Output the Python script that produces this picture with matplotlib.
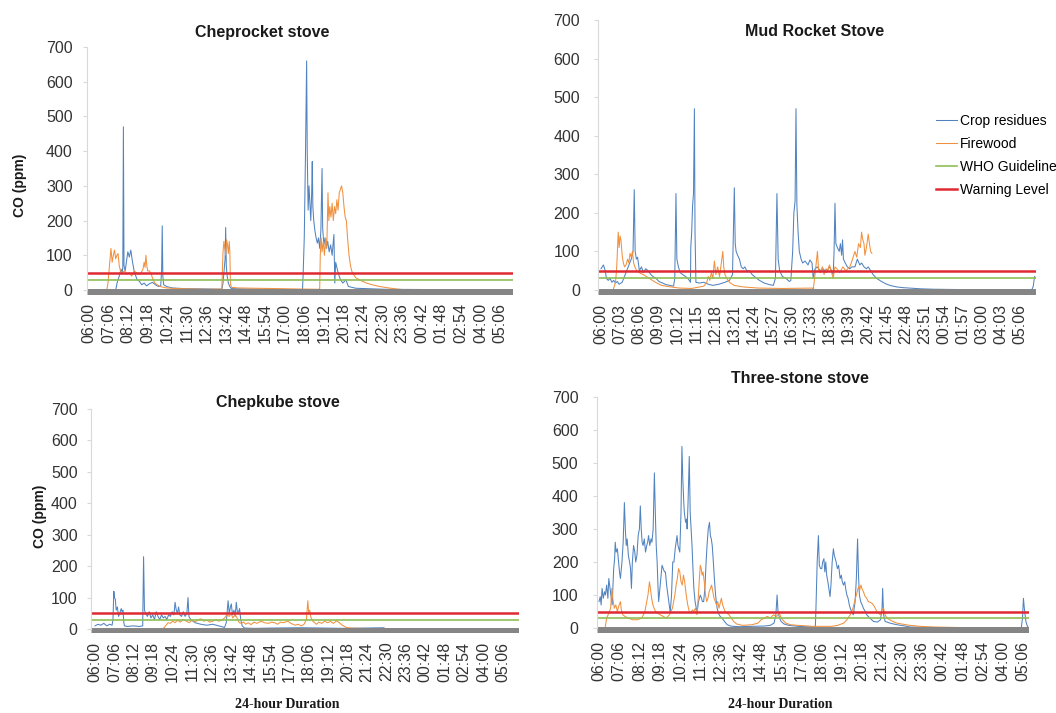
import matplotlib
matplotlib.use('Agg')
from matplotlib import pyplot as plt

plt.rcParams['font.family'] = ['Liberation Sans', 'DejaVu Sans']

# 时间 = 从 06:00 开始的分钟数
# ---------------- Cheprocket stove ----------------
tl_crop_t = [0, 90, 96, 102, 108, 112, 114, 116, 118, 122, 126, 131, 136, 141, 146, 151, 156, 162, 170, 178,
             186, 194, 204, 214, 224, 234, 242, 245, 247, 249, 252, 262, 280, 320, 400, 448, 452, 456, 459, 461,
             463, 466, 470, 475, 480, 520, 600, 700, 720, 722, 726, 730, 734, 736, 739, 742, 745, 748, 751, 753,
             755, 758, 762, 766, 770, 774, 778, 782, 786, 788, 792, 796, 800, 805, 810, 815, 820, 826, 829, 832,
             840, 848, 856, 862, 866, 875, 900, 1000, 1430]
tl_crop_v = [0, 0, 25, 40, 60, 50, 65, 470, 70, 55, 80, 110, 95, 115, 85, 60, 45, 30, 25, 15,
             20, 12, 18, 22, 15, 10, 12, 60, 185, 40, 15, 10, 6, 4, 3, 2, 20, 60, 90, 180,
             70, 40, 20, 10, 4, 3, 2, 1, 1, 40, 150, 380, 660, 400, 230, 300, 250, 200, 280, 370,
             240, 200, 170, 150, 135, 150, 120, 170, 350, 180, 130, 150, 120, 140, 110, 130, 100, 160, 20, 80,
             50, 30, 20, 25, 30, 10, 5, 2, 0]
tl_fire_t = [0, 60, 64, 68, 72, 74, 78, 82, 86, 90, 94, 98, 102, 106, 112, 120, 128, 136, 144, 152,
             160, 168, 176, 182, 186, 189, 192, 195, 198, 204, 210, 216, 222, 230, 240, 260, 300, 400, 448, 450,
             452, 455, 458, 461, 464, 467, 470, 473, 475, 477, 480, 500, 560, 640, 700, 776, 778, 780, 783, 786,
             790, 794, 798, 802, 806, 809, 812, 816, 820, 824, 828, 832, 836, 840, 844, 848, 852, 856, 860, 864,
             868, 872, 877, 882, 886, 892, 900, 915, 936, 960, 981, 1010, 1037, 1071, 1430]
tl_fire_v = [0, 0, 20, 60, 100, 120, 80, 100, 115, 90, 100, 105, 70, 55, 50, 55, 45, 50, 40, 55,
             50, 45, 50, 60, 80, 65, 100, 70, 55, 55, 45, 30, 20, 15, 10, 6, 4, 2, 3, 60,
             110, 140, 120, 100, 145, 130, 105, 140, 110, 20, 8, 6, 5, 4, 3, 2, 0, 100, 150, 110,
             140, 100, 150, 120, 280, 200, 240, 210, 250, 200, 240, 220, 260, 230, 280, 290, 300, 280, 240, 210,
             200, 150, 100, 70, 55, 45, 35, 28, 20, 14, 10, 6, 3, 0, 0]
tl_labels = ['06:00', '07:06', '08:12', '09:18', '10:24', '11:30', '12:36', '13:42', '14:48', '15:54', '17:00',
             '18:06', '19:12', '20:18', '21:24', '22:30', '23:36', '00:42', '01:48', '02:54', '04:00', '05:06']

# ---------------- Mud Rocket Stove ----------------
tr_crop_t = [0, 8, 14, 18, 24, 30, 36, 42, 48, 54, 60, 70, 80, 90, 100, 106, 110, 113, 117, 121,
             127, 134, 140, 148, 156, 165, 172, 182, 192, 204, 215, 228, 240, 244, 248, 251, 256, 262, 270, 280,
             287, 292, 296, 297, 300, 303, 306, 309, 311, 314, 325, 340, 355, 370, 390, 410, 425, 435, 441, 444,
             447, 452, 458, 464, 470, 476, 482, 491, 500, 512, 524, 540, 557, 570, 577, 582, 586, 591, 600, 612,
             623, 628, 634, 638, 642, 645, 648, 652, 656, 662, 667, 675, 685, 691, 698, 702, 708, 715, 725, 735,
             745, 755, 763, 768, 771, 774, 777, 782, 788, 792, 796, 799, 802, 808, 815, 823, 830, 840, 848, 856,
             862, 870, 878, 884, 892, 900, 912, 928, 945, 960, 978, 1000, 1022, 1060, 1099, 1200, 1425, 1430, 1434, 1439]
tr_crop_v = [55, 65, 50, 30, 25, 30, 20, 25, 18, 22, 15, 20, 40, 60, 80, 100, 260, 100, 80, 85,
             50, 60, 45, 55, 50, 40, 35, 30, 22, 18, 14, 12, 10, 30, 250, 80, 60, 45, 40, 35,
             30, 25, 20, 110, 150, 220, 250, 470, 150, 20, 18, 20, 15, 12, 15, 20, 25, 40, 265, 120,
             100, 90, 80, 60, 55, 60, 50, 50, 40, 32, 25, 18, 14, 12, 30, 250, 80, 50, 35, 30,
             22, 25, 100, 200, 230, 470, 220, 150, 100, 80, 70, 75, 65, 78, 70, 30, 55, 60, 50, 55,
             45, 60, 50, 40, 100, 225, 120, 110, 100, 120, 90, 130, 80, 70, 60, 55, 60, 60, 80, 65,
             70, 60, 55, 60, 50, 40, 30, 22, 15, 11, 8, 6, 5, 3, 2, 1, 0, 10, 35, 30]
tr_fire_t = [40, 48, 52, 57, 60, 63, 66, 70, 74, 78, 83, 88, 92, 96, 100, 104, 108, 112, 118, 126,
             140, 160, 180, 200, 230, 260, 300, 340, 350, 355, 360, 365, 370, 375, 380, 386, 392, 398, 403, 406,
             410, 416, 425, 440, 470, 520, 600, 700, 702, 708, 716, 720, 726, 732, 738, 744, 750, 756, 763, 768,
             774, 780, 790, 800, 810, 823, 830, 836, 840, 846, 852, 858, 862, 866, 870, 873, 878, 884, 888, 892,
             896]
tr_fire_v = [0, 20, 60, 150, 110, 140, 130, 90, 70, 60, 65, 80, 70, 95, 85, 100, 70, 60, 50, 45,
             40, 30, 20, 12, 8, 5, 4, 10, 20, 35, 25, 45, 30, 75, 40, 60, 35, 70, 100, 60,
             40, 30, 20, 12, 8, 5, 4, 5, 0, 40, 100, 50, 45, 60, 40, 55, 50, 65, 45, 30,
             60, 55, 45, 60, 50, 60, 75, 90, 100, 85, 120, 110, 150, 130, 120, 90, 110, 145, 120, 100,
             95]
tr_labels = ['06:00', '07:03', '08:06', '09:09', '10:12', '11:15', '12:18', '13:21', '14:24', '15:27', '16:30',
             '17:33', '18:36', '19:39', '20:42', '21:45', '22:48', '23:51', '00:54', '01:57', '03:00', '04:03',
             '05:06']

# ---------------- Chepkube stove ----------------
bl_crop_t = [0, 10, 20, 30, 40, 50, 58, 61, 64, 66, 69, 72, 76, 80, 84, 89, 92, 95, 98, 100,
             110, 130, 150, 162, 165, 168, 172, 178, 184, 190, 196, 202, 208, 214, 220, 226, 232, 238, 244, 250,
             256, 262, 268, 272, 276, 280, 284, 288, 294, 300, 306, 312, 316, 319, 325, 340, 360, 380, 400, 420,
             440, 446, 452, 456, 460, 463, 467, 472, 476, 480, 484, 488, 491, 495, 500, 508, 540, 600, 700, 780,
             850, 980, 990, 1440]
bl_crop_v = [10, 15, 12, 18, 10, 15, 12, 30, 120, 100, 95, 60, 70, 40, 50, 65, 55, 60, 20, 10,
             8, 10, 8, 10, 230, 60, 50, 40, 55, 35, 45, 30, 55, 40, 30, 45, 35, 40, 30, 45,
             40, 55, 45, 85, 60, 50, 70, 45, 40, 55, 40, 50, 100, 40, 30, 20, 15, 12, 15, 10,
             5, 20, 90, 50, 70, 80, 45, 60, 40, 85, 50, 55, 65, 30, 10, 3, 2, 3, 4, 3,
             2, 4, 0, 0]
bl_fire_t = [230, 240, 248, 256, 264, 272, 280, 290, 300, 310, 320, 330, 340, 350, 361, 370, 380, 390, 400, 410,
             420, 430, 440, 448, 456, 462, 468, 475, 480, 485, 490, 497, 505, 512, 520, 530, 540, 550, 565, 575,
             590, 600, 610, 620, 630, 640, 655, 665, 680, 690, 701, 710, 718, 723, 726, 729, 734, 740, 746, 752,
             760, 770, 780, 790, 800, 810, 820, 830, 840, 848, 853, 870, 900, 1000]
bl_fire_v = [0, 10, 20, 18, 25, 20, 28, 22, 30, 25, 20, 28, 22, 30, 32, 25, 28, 22, 25, 30,
             25, 28, 35, 45, 40, 50, 35, 45, 40, 30, 20, 18, 22, 15, 20, 14, 22, 18, 25, 20,
             18, 22, 20, 15, 22, 20, 25, 18, 12, 15, 10, 15, 30, 90, 50, 60, 35, 25, 20, 15,
             22, 18, 25, 20, 24, 18, 26, 20, 12, 8, 5, 3, 2, 0]
bl_labels = tl_labels

# ---------------- Three-stone stove ----------------
br_crop_t = [0, 4, 7, 10, 14, 18, 21, 25, 29, 32, 36, 40, 43, 46, 48, 51, 53, 56, 60, 64,
             67, 70, 73, 75, 79, 83, 86, 89, 92, 96, 100, 103, 106, 109, 113, 117, 120, 124, 128, 132,
             135, 138, 141, 144, 148, 152, 156, 159, 162, 166, 170, 173, 177, 181, 184, 187, 190, 193, 195, 199,
             203, 206, 210, 214, 217, 221, 225, 228, 231, 233, 237, 241, 245, 249, 252, 255, 258, 261, 264, 268,
             271, 274, 277, 279, 283, 286, 288, 291, 295, 298, 301, 304, 307, 310, 314, 318, 321, 325, 328, 331,
             335, 338, 342, 346, 350, 353, 357, 361, 364, 367, 370, 373, 377, 381, 386, 390, 396, 402, 410, 419,
             430, 440, 460, 500, 540, 560, 572, 578, 582, 585, 590, 595, 605, 620, 650, 700, 707, 709, 713, 717,
             720, 724, 728, 731, 735, 738, 741, 744, 748, 751, 755, 758, 762, 766, 769, 772, 775, 779, 783, 788,
             792, 795, 799, 803, 806, 810, 814, 818, 821, 825, 829, 831, 834, 837, 841, 845, 848, 851, 855, 860,
             864, 870, 875, 885, 897, 910, 920, 925, 927, 930, 935, 950, 973, 1000, 1017, 1060, 1150, 1380, 1384, 1387,
             1390, 1395, 1400, 1405]
br_crop_v = [80, 95, 70, 120, 90, 110, 100, 130, 90, 150, 120, 90, 70, 140, 180, 210, 260, 230, 240, 200,
             170, 150, 180, 200, 260, 380, 300, 250, 270, 220, 200, 180, 120, 200, 250, 230, 200, 220, 280, 300,
             370, 300, 260, 250, 270, 230, 250, 260, 280, 250, 270, 260, 300, 470, 350, 250, 200, 120, 80, 120,
             160, 190, 180, 170, 170, 130, 100, 80, 60, 50, 100, 200, 200, 240, 260, 280, 250, 240, 230, 350,
             550, 450, 380, 350, 320, 330, 300, 380, 520, 350, 300, 250, 180, 120, 80, 60, 50, 80, 90, 100,
             90, 80, 80, 120, 200, 250, 300, 320, 280, 270, 250, 210, 150, 100, 60, 45, 35, 30, 20, 10,
             6, 5, 4, 5, 6, 8, 15, 40, 100, 50, 30, 20, 12, 8, 5, 3, 2, 60, 200, 280,
             190, 180, 180, 200, 210, 170, 200, 160, 140, 120, 95, 130, 200, 240, 220, 210, 200, 180, 190, 150,
             160, 140, 130, 140, 120, 100, 90, 70, 60, 50, 45, 40, 60, 80, 150, 270, 160, 100, 80, 70,
             60, 50, 40, 30, 20, 18, 25, 60, 120, 40, 20, 15, 10, 6, 3, 2, 1, 1, 30, 90,
             60, 20, 5, 0]
br_fire_t = [0, 20, 25, 32, 38, 42, 45, 50, 55, 60, 64, 70, 73, 78, 85, 95, 110, 125, 140, 150,
             156, 160, 165, 168, 172, 176, 180, 185, 190, 200, 210, 220, 230, 240, 248, 252, 256, 260, 264, 268,
             272, 276, 280, 285, 290, 295, 300, 305, 310, 315, 320, 325, 328, 331, 334, 337, 340, 344, 348, 352,
             356, 360, 364, 368, 372, 376, 380, 384, 388, 392, 396, 400, 404, 408, 412, 418, 425, 432, 440, 450,
             470, 500, 520, 530, 540, 550, 560, 570, 580, 590, 595, 600, 610, 625, 650, 700, 760, 780, 800, 810,
             821, 830, 838, 844, 848, 852, 856, 859, 864, 870, 875, 880, 886, 892, 900, 908, 914, 919, 925, 930,
             935, 941, 950, 960, 973, 990, 1017, 1050, 1093, 1150, 1202, 1300, 1405]
br_fire_v = [0, 0, 30, 45, 60, 120, 90, 60, 70, 50, 65, 80, 55, 40, 35, 30, 25, 25, 30, 50,
             80, 100, 140, 120, 90, 70, 60, 50, 45, 40, 35, 30, 40, 60, 100, 130, 150, 180, 170, 140,
             130, 160, 140, 100, 70, 50, 45, 55, 50, 60, 40, 100, 150, 190, 180, 160, 170, 140, 100, 80,
             90, 110, 120, 130, 110, 90, 80, 70, 80, 60, 75, 90, 70, 60, 50, 45, 40, 30, 20, 12,
             8, 10, 15, 25, 30, 35, 30, 40, 35, 45, 30, 25, 15, 10, 8, 5, 5, 8, 15, 25,
             40, 60, 90, 110, 125, 115, 130, 120, 110, 95, 90, 80, 78, 75, 65, 50, 45, 40, 55, 60,
             40, 30, 25, 20, 15, 12, 8, 5, 3, 2, 1, 0, 0]
br_labels = tl_labels

who_level = 30
warning_level = 50
base_level = -6

legend_labels = ['Crop residues', 'Firewood', 'WHO Guideline', 'Warning Level']
c_crop = '#5183C0'
c_fire = '#F0913F'
c_who = '#8DBF55'
c_warn = '#E02A33'
c_base = '#858585'


def to_minutes(lbl):
    h, m = lbl.split(':')
    return ((int(h) - 6) % 24) * 60 + int(m)


fig = plt.figure(figsize=(10.56, 7.13), dpi=100)


def make_axes(t0_px, px_min, x_lo, x_hi, y0_px, y700_px):
    left = t0_px + x_lo * px_min
    right = t0_px + x_hi * px_min
    top = y700_px
    bottom = y0_px - base_level * 2.3 * (y0_px - y700_px) / 700
    ax = fig.add_axes([left / 1056, 1 - bottom / 713, (right - left) / 1056, (bottom - top) / 713])
    ax.set_xlim(x_lo, x_hi)
    ax.set_ylim(base_level * 2.3, 700)
    return ax


def draw(ax, ct, cv, ft, fv, labels, ypad):
    ax.plot(ct, cv, color=c_crop, lw=0.75, label=legend_labels[0])
    ax.plot(ft, fv, color=c_fire, lw=0.75, label=legend_labels[1])
    ax.axhline(base_level, color=c_base, lw=5, solid_capstyle='butt')
    ax.axhline(who_level, color=c_who, lw=1.2, label=legend_labels[2])
    ax.axhline(warning_level, color=c_warn, lw=1.8, label=legend_labels[3])
    for s in ['top', 'right', 'bottom']:
        ax.spines[s].set_visible(False)
    ax.spines['left'].set_color('#D9D9D9')
    ax.spines['left'].set_bounds(0, 700)
    ax.set_yticks(range(0, 701, 100))
    ax.tick_params(axis='y', length=3, color='#D9D9D9', pad=ypad, labelsize=11.5, labelcolor='#333333')
    ax.set_xticks([to_minutes(l) for l in labels])
    ax.set_xticklabels(labels, rotation=90)
    ax.tick_params(axis='x', length=0, pad=6, labelsize=11.5, labelcolor='#333333')


ax1 = make_axes(89, 0.2965, -8, 1430, 290, 47)
draw(ax1, tl_crop_t, tl_crop_v, tl_fire_t, tl_fire_v, tl_labels, 7)
ax2 = make_axes(601, 0.3023, -10, 1439, 290, 20)
draw(ax2, tr_crop_t, tr_crop_v, tr_fire_t, tr_fire_v, tr_labels, 10)
ax3 = make_axes(95, 0.2944, -12, 1440, 629, 409)
draw(ax3, bl_crop_t, bl_crop_v, bl_fire_t, bl_fire_v, bl_labels, 7)
ax4 = make_axes(599, 0.306, -8, 1405, 628, 397)
draw(ax4, br_crop_t, br_crop_v, br_fire_t, br_fire_v, br_labels, 10)

ax2.legend(loc='upper left', bbox_to_anchor=(936 / 1056, 1 - 114 / 713), bbox_transform=fig.transFigure,
           frameon=False, fontsize=10, handlelength=1.5, handletextpad=0.2, labelspacing=0.65, borderpad=0,
           borderaxespad=0)

title_kw = dict(ha='center', va='center', fontsize=11.5, fontweight='bold', color='#1A1A1A')
fig.text(262 / 1056, 1 - 32 / 713, 'Cheprocket stove', **title_kw)
fig.text(815 / 1056, 1 - 32 / 713, 'Mud Rocket Stove', **title_kw)
fig.text(278 / 1056, 1 - 403 / 713, 'Chepkube stove', **title_kw)
fig.text(800 / 1056, 1 - 379 / 713, 'Three-stone stove', **title_kw)

ylab_kw = dict(ha='center', va='center', rotation=90, fontsize=10, fontweight='bold', color='#1A1A1A')
fig.text(20 / 1056, 1 - 185 / 713, 'CO (ppm)', **ylab_kw)
fig.text(40 / 1056, 1 - 516 / 713, 'CO (ppm)', **ylab_kw)

xlab_kw = dict(ha='center', va='center', fontsize=10, fontweight='bold', family='Liberation Serif', color='#1A1A1A')
fig.text(287 / 1056, 1 - 704 / 713, '24-hour Duration', **xlab_kw)
fig.text(780 / 1056, 1 - 704 / 713, '24-hour Duration', **xlab_kw)

fig.savefig('out.png', dpi=100, facecolor='white')
